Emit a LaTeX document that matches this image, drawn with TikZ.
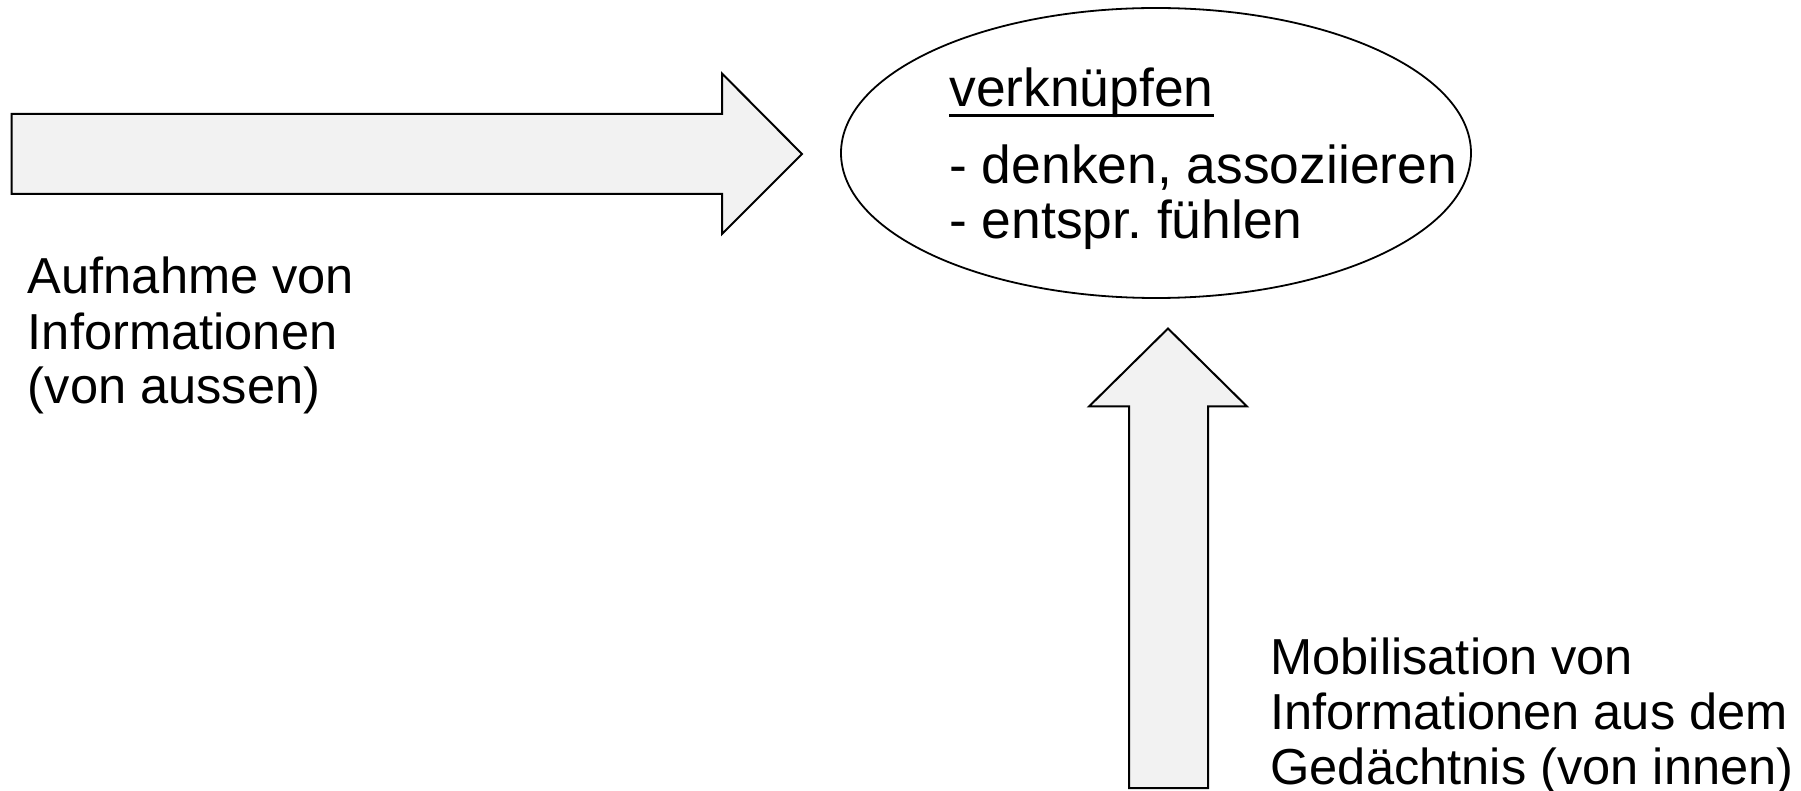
\documentclass[tikz,border=0pt]{standalone}
\usepackage{fontspec}
\setmainfont{Liberation Sans}
\usetikzlibrary{shapes.geometric, positioning}
\definecolor{arrowFill}{RGB}{242, 242, 242}
\newcommand{\ulword}[1]{\setbox0\hbox{#1}\rlap{\rule[-5pt]{\wd0}{1.5pt}}#1}
\frenchspacing

\begin{document}
\begin{tikzpicture}[
    x=0.5pt, y=-0.5pt,
    txt/.style={anchor=base west, align=left, inner sep=0pt, font=\fontsize{25.3}{27.5}\selectfont},
    blockarrow/.style={draw, line width=1pt, fill=arrowFill, line join=miter},
    oval/.style={ellipse, draw, line width=0.9pt, minimum width=315pt, minimum height=145pt, inner sep=0pt}
]
    \useasboundingbox (0,0) rectangle (1801,791);

    % Central ellipse (text placed by its last baseline)
    \node[oval] (link) at (1156,153) {};
    \node[txt, font=\fontsize{26.7}{27.5}\selectfont] (linktext) at (949,239) {\ulword{verknüpfen}\\[11pt]- denken, assoziieren\\- entspr. fühlen};

    % Block arrows
    \draw[blockarrow] (11.5,114) -- (722,114) -- (722,73.5) -- (802,154) -- (722,234) -- (722,194) -- (11.5,194) -- cycle;
    \draw[blockarrow] (1129,788) -- (1129,406.5) -- (1089,406.5) -- (1168,328.5) -- (1247,406.5) -- (1208,406.5) -- (1208,788) -- cycle;

    % Labels
    \node[txt] (intext) at (27.5,404) {Aufnahme von\\Informationen\\(von aussen)};
    \node[txt] (memtext) at (1270,784) {Mobilisation von\\Informationen aus dem\\Gedächtnis (von innen)};

\end{tikzpicture}
\end{document}
